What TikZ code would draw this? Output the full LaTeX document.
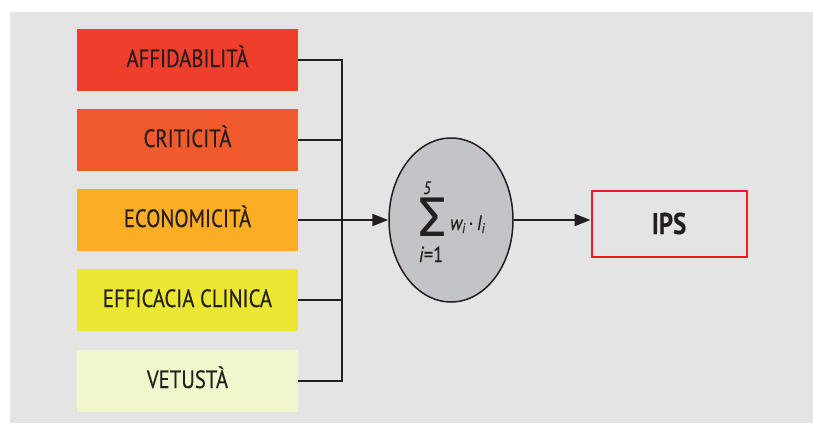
\documentclass[tikz,border=0pt]{standalone}
\usepackage{fontspec}
\setmainfont{PT Sans}[FakeStretch=0.83,FakeBold=0.35]
\newfontfamily\sigmafont{Fira Sans}
\usetikzlibrary{arrows.meta,shapes.geometric}

\definecolor{panel}{HTML}{E4E4E4}
\definecolor{ink}{HTML}{231F20}
\definecolor{cAff}{HTML}{EF3E2B}
\definecolor{cCri}{HTML}{F15A2C}
\definecolor{cEco}{HTML}{FBAD26}
\definecolor{cEff}{HTML}{EBE732}
\definecolor{cVet}{HTML}{F1F6CD}
\definecolor{sumfill}{HTML}{C3C4C8}
\definecolor{ipsred}{HTML}{ED1C24}

\tikzset{
  factor/.style={draw=none, minimum width=221pt, minimum height=62pt,
    inner sep=0pt, text height=14pt, text depth=0pt,
    font=\fontsize{25}{27}\selectfont, text=ink},
  formula/.style={inner sep=0pt, text=ink, anchor=base, text depth=0pt},
  link/.style={draw=ink, line width=2pt},
  feed/.style={link, -{Triangle[length=16pt,width=12pt]}},
}

\begin{document}
\begin{tikzpicture}[x=1pt,y=-1pt]
  \useasboundingbox (0,0) rectangle (813,423);
  \fill[panel] (10,12) rectangle (813,423);

  % input factors
  \node[factor, fill=cAff] (aff) at (187.5,60)  {AFFIDABILITÀ};
  \node[factor, fill=cCri] (cri) at (187.5,140) {CRITICITÀ};
  \node[factor, fill=cEco] (eco) at (187.5,220) {ECONOMICITÀ};
  \node[factor, fill=cEff] (eff) at (187.5,300) {EFFICACIA CLINICA};
  \node[factor, fill=cVet] (vet) at (187.5,381) {VETUSTÀ};

  % weighted sum
  \node[ellipse, draw=ink, line width=1.5pt, fill=sumfill,
        minimum width=124pt, minimum height=164pt, inner sep=0pt]
    (sum) at (451,220) {};
  \node[formula, text height=39pt, font=\sigmafont\fontsize{56}{56}\selectfont]
    (sigma) at (433,236) {Σ};
  \node[formula, text height=12pt, font=\fontsize{18}{18}\selectfont\itshape]
    (upper) at (427,194) {5};
  \node[formula, text height=16pt, font=\fontsize{22}{22}\selectfont]
    (lower) at (431,262) {\textit{i}=1};
  \node[formula, anchor=base west, text height=14pt, font=\fontsize{21}{21}\selectfont\itshape]
    (term) at (450,230)
    {w\raisebox{-3pt}{\fontsize{14}{14}\selectfont i}\,\upshape·\,\itshape I\raisebox{-3pt}{\fontsize{14}{14}\selectfont i}};

  % result
  \node[draw=ipsred, line width=2pt, fill=panel, minimum width=155pt,
        minimum height=66pt, inner sep=0pt, text=ink,
        font=\fontsize{30}{32}\selectfont\bfseries] (ips) at (669,223.5) {IPS};

  % collector bus
  \coordinate (busTop) at (342,60);
  \coordinate (busBot) at (342,381);
  \draw[link, line join=miter]
    (aff.east) -- (busTop) -- (busBot) -- (vet.east);
  \draw[link] (cri.east) -- (cri.east -| busTop);
  \draw[link] (eff.east) -- (eff.east -| busTop);
  \draw[feed] (eco.east) -- (sum.west);
  \draw[feed] (sum.east) -- (sum.east -| ips.west);
\end{tikzpicture}
\end{document}
